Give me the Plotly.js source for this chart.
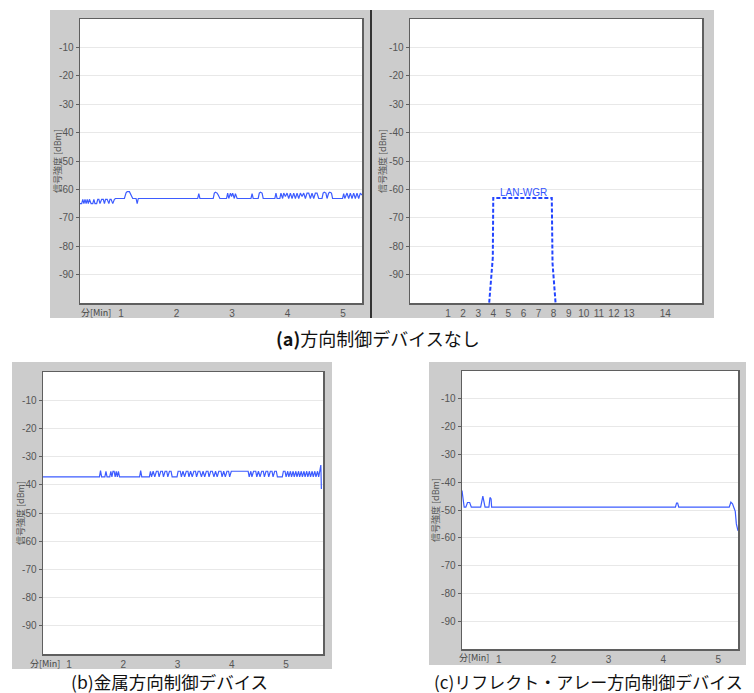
<!DOCTYPE html>
<html>
<head>
<meta charset="utf-8">
<script src="https://cdn.plot.ly/plotly-3.0.1.min.js"></script>
<style>html,body{margin:0;padding:0;background:#fff;}#chart{width:754px;height:693px;}</style>
</head>
<body>
<div id="chart"></div>
<script>
// ---------- DATA ----------
// (a) no direction-control device: time [min] vs signal [dBm]
const aTime = [0.26,0.29,0.31,0.33,0.35,0.37,0.39,0.41,0.43,0.46,0.49,0.51,0.53,0.56,0.58,0.60,0.62,0.65,0.68,0.70,0.72,0.75,0.78,0.80,0.82,0.85,0.88,0.90,0.96,1.06,1.09,1.11,1.15,1.18,1.21,1.27,1.29,1.31,2.38,2.40,2.42,2.66,2.68,2.70,2.73,2.75,2.78,2.90,2.92,2.94,2.97,2.99,3.01,3.04,3.06,3.09,3.34,3.36,3.38,3.47,3.49,3.51,3.54,3.56,3.77,3.79,3.81,3.86,3.88,3.91,3.93,3.96,3.99,4.02,4.05,4.08,4.11,4.14,4.17,4.20,4.23,4.26,4.29,4.32,4.35,4.38,4.41,4.44,4.47,4.50,4.53,4.56,4.62,4.64,4.66,4.69,4.71,4.74,4.76,4.79,4.81,4.99,5.01,5.03,5.07,5.10,5.13,5.16,5.19,5.22,5.25,5.28,5.31,5.34];
const aSignal = [-65,-65,-63.5,-65,-63.5,-65,-63.5,-65,-63.5,-65,-65,-63.5,-65,-65,-63.5,-63.5,-65,-63.5,-63.5,-65,-63.5,-63.5,-65,-63.5,-63.5,-65,-63.5,-63.2,-63.2,-63.2,-61.2,-60.8,-60.8,-61.8,-63.2,-63.2,-65,-63.2,-63.2,-61.5,-63.2,-63.2,-61.3,-61.0,-61.3,-62.0,-63.2,-63.2,-61.3,-63.2,-61.3,-62.5,-61.3,-63.2,-61.5,-63.2,-63.2,-61.5,-63.2,-63.2,-61.3,-61.0,-61.3,-63.2,-63.2,-61.3,-63.2,-63.2,-61.3,-63.2,-61.3,-62.5,-61.3,-63.2,-61.3,-63.2,-61.3,-63.2,-61.3,-63.2,-61.3,-62.5,-61.3,-63.2,-61.3,-61.3,-63.2,-61.3,-63.2,-61.3,-61.3,-63.2,-63.2,-61.3,-61.0,-61.3,-63.2,-61.3,-61.0,-61.3,-63.2,-63.2,-61.5,-63.2,-61.3,-63.2,-61.3,-63.2,-61.3,-63.2,-61.3,-63.2,-61.3,-62.0];

// (a) right: channel spectrum of LAN-WGR
const wgrChannel = [3.70,3.97,4.00,7.88,7.93,8.16];
const wgrSignal  = [-102,-84,-63,-63,-86,-102];
const chTickVals = [1,2,3,4,5,6,7,8,9,10,11,12,13,15.4];
const chTickText = ["1","2","3","4","5","6","7","8","9","10","11","12","13","14"];

// (b) metal direction-control device
const bTime = [0.52,1.56,1.58,1.60,1.66,1.68,1.70,1.75,1.77,1.79,1.81,1.83,1.85,1.87,1.89,1.91,1.93,2.30,2.32,2.34,2.48,2.50,2.52,2.55,2.58,2.61,2.64,2.66,2.69,2.72,2.74,2.77,2.80,2.82,2.85,2.88,2.90,2.99,3.01,3.05,3.07,3.10,3.13,3.16,3.19,3.21,3.24,3.27,3.30,3.33,3.35,3.38,3.41,3.44,3.47,3.50,3.53,3.56,3.58,3.61,3.64,3.67,3.70,3.73,3.76,3.80,3.82,3.85,3.88,3.91,3.94,3.96,3.99,4.30,4.32,4.35,4.37,4.40,4.44,4.46,4.49,4.52,4.55,4.58,4.60,4.63,4.66,4.68,4.71,4.74,4.76,4.79,4.82,4.84,4.93,4.95,4.98,5.00,5.03,5.05,5.08,5.10,5.13,5.15,5.18,5.20,5.23,5.25,5.28,5.30,5.33,5.35,5.38,5.40,5.43,5.45,5.48,5.50,5.53,5.55,5.58,5.60,5.62,5.64,5.645,5.65];
const bSignal = [-37.2,-37.2,-35,-37.2,-37.2,-35.2,-37.2,-37.2,-35.2,-37.2,-35.2,-35.2,-37.2,-35.2,-37.2,-35.2,-37.2,-37.2,-35,-37.2,-37.2,-35.2,-37.2,-35.2,-37.2,-35.2,-35.2,-37.2,-35.2,-35.2,-37.2,-35.2,-35.2,-37.2,-35.2,-35.2,-37.2,-37.2,-35.2,-35.2,-37.2,-35.2,-37.2,-35.2,-35.2,-37.2,-35.2,-37.2,-35.2,-35.2,-37.2,-35.2,-35.2,-37.2,-35.2,-37.2,-35.2,-35.2,-37.2,-35.2,-35.2,-37.2,-35.2,-37.2,-35.2,-35.2,-37.2,-35.2,-37.2,-35.2,-35.2,-37.2,-35.2,-35.2,-37.2,-35.2,-37.2,-35.2,-35.2,-37.2,-35.2,-37.2,-35.2,-35.2,-37.2,-35.2,-35.2,-37.2,-35.2,-35.2,-37.2,-35.2,-35.2,-37.2,-37.2,-35.2,-35.2,-37.2,-35.2,-37.2,-35.2,-37.2,-35.2,-37.2,-35.2,-37.2,-35.2,-37.2,-35.2,-37.2,-35.2,-37.2,-35.2,-37.2,-35.2,-37.2,-35.2,-37.2,-35.2,-37.2,-35.2,-37.2,-35.2,-33.0,-37,-41.5];

// (c) reflect-array direction-control device
const cTime = [0.33,0.35,0.37,0.40,0.43,0.47,0.50,0.67,0.69,0.71,0.73,0.75,0.82,0.84,0.86,0.87,4.22,4.24,4.26,4.28,5.20,5.23,5.26,5.29,5.31,5.33,5.36];
const cSignal = [-43,-46,-49,-49,-47.3,-47.3,-49,-49,-46,-45,-47,-49,-49,-45.5,-46,-49,-49,-47.5,-47.5,-49,-49,-47.2,-47.8,-49.5,-50.5,-55,-57.5];

const minTickVals = [1,2,3,4,5];
const dbTickVals = [-10,-20,-30,-40,-50,-60,-70,-80,-90];
const dbTickText = ["-10","-20","-30","-40","-50","-60","-70","-80","-90"];

const yAxisTitle = "信号強度 [dBm]";
const xAxisLabel = "分[Min]";
const seriesLabel = "LAN-WGR";
const captionA = "<b>(a)</b>方向制御デバイスなし";
const captionB = "(b)金属方向制御デバイス";
const captionC = "(c)リフレクト・アレー方向制御デバイス";

// ---------- LAYOUT HELPERS ----------
const W = 754, H = 693;
const px = x => x / W;
const py = y => 1 - y / H;
const JP = "Noto Sans CJK JP";
const tickFont = {family: "Liberation Sans, Arial, sans-serif", size: 10, color: "#555"};
const lineBlue = "#3d5cff";

function xAx(d0, d1, range, vals, text, anchor) {
  const a = {domain: [px(d0), px(d1)], range: range, anchor: anchor, tickmode: "array", tickvals: vals,
    ticks: "", showgrid: false, zeroline: false, showline: true, mirror: true, linecolor: "#5f5f5f",
    linewidth: 1.5, tickfont: tickFont, fixedrange: true};
  if (text) a.ticktext = text;
  return a;
}
function yAx(t, b, anchor) {
  return {domain: [py(b), py(t)], range: [-100, 0], anchor: anchor, tickmode: "array", tickvals: dbTickVals,
    ticktext: dbTickText, ticks: "outside", ticklen: 3, tickcolor: "#5f5f5f", showgrid: true,
    gridcolor: "#e8e8e8", gridwidth: 1, zeroline: false, showline: true, mirror: true,
    linecolor: "#5f5f5f", linewidth: 1.5, tickfont: tickFont, fixedrange: true};
}

const traces = [
  {x: aTime, y: aSignal, xaxis: "x", yaxis: "y", mode: "lines", line: {color: lineBlue, width: 1.2}, hoverinfo: "skip"},
  {x: wgrChannel, y: wgrSignal, xaxis: "x2", yaxis: "y2", mode: "lines", line: {color: "#2244ff", width: 2, dash: "4px,2px"}, hoverinfo: "skip"},
  {x: bTime, y: bSignal, xaxis: "x3", yaxis: "y3", mode: "lines", line: {color: lineBlue, width: 1.2}, hoverinfo: "skip"},
  {x: cTime, y: cSignal, xaxis: "x4", yaxis: "y4", mode: "lines", line: {color: lineBlue, width: 1.2}, hoverinfo: "skip"}
];

function rect(x0, y0, x1, y1, color) {
  return {type: "rect", xref: "paper", yref: "paper", x0: px(x0), x1: px(x1), y0: py(y1), y1: py(y0),
    fillcolor: color, line: {width: 0}, layer: "below"};
}

const shapes = [
  rect(50, 10, 370, 318, "#cccccc"),
  rect(372, 10, 714, 318, "#cccccc"),
  rect(12, 362, 332, 669, "#cccccc"),
  rect(429, 362, 746, 665, "#cccccc"),
  rect(80, 19, 362, 303, "#ffffff"),
  rect(410, 19, 702, 303, "#ffffff"),
  rect(43, 372, 323, 654, "#ffffff"),
  rect(462, 371, 738, 649, "#ffffff"),
  {type: "line", xref: "paper", yref: "paper", x0: px(371), x1: px(371), y0: py(318), y1: py(10),
   line: {color: "#333333", width: 2}, layer: "below"}
];

function ann(text, x, y, opts) {
  return Object.assign({text: text, xref: "paper", yref: "paper", x: px(x), y: py(y), showarrow: false,
    xanchor: "center", yanchor: "middle"}, opts || {});
}
const vFont = {family: JP, size: 9, color: "#555"};
const annotations = [
  ann(yAxisTitle, 58, 161, {textangle: -90, font: vFont}),
  ann(yAxisTitle, 383, 161, {textangle: -90, font: vFont}),
  ann(yAxisTitle, 20, 513, {textangle: -90, font: vFont}),
  ann(yAxisTitle, 436, 510, {textangle: -90, font: vFont}),
  ann(xAxisLabel, 96, 312, {font: {family: JP, size: 9, color: "#444"}}),
  ann(xAxisLabel, 45, 663, {font: {family: JP, size: 9, color: "#444"}}),
  ann(xAxisLabel, 474, 657, {font: {family: JP, size: 9, color: "#444"}}),
  {text: seriesLabel, xref: "x2", yref: "y2", x: 6, y: -61.2, showarrow: false, xanchor: "center", yanchor: "middle",
   font: {family: "Liberation Sans, Arial, sans-serif", size: 10, color: "#3355ff"}},
  ann(captionA, 378, 338, {font: {family: JP, size: 18, color: "#111"}}),
  ann(captionB, 169, 681.5, {font: {family: JP, size: 17.5, color: "#111"}, borderpad: 0}),
  ann(captionC, 588, 681.5, {font: {family: JP, size: 17, color: "#111"}, borderpad: 0})
];

const layout = {
  width: W, height: H, autosize: false,
  margin: {l: 0, r: 0, t: 0, b: 0, pad: 0},
  paper_bgcolor: "#ffffff", plot_bgcolor: "rgba(0,0,0,0)",
  showlegend: false,
  xaxis: xAx(80, 362, [0.26, 5.34], minTickVals, null, "y"),
  yaxis: yAx(19, 303, "x"),
  xaxis2: xAx(410, 702, [-1.52, 17.84], chTickVals, chTickText, "y2"),
  yaxis2: yAx(19, 303, "x2"),
  xaxis3: xAx(43, 323, [0.52, 5.68], minTickVals, null, "y3"),
  yaxis3: yAx(372, 654, "x3"),
  xaxis4: xAx(462, 738, [0.33, 5.36], minTickVals, null, "y4"),
  yaxis4: yAx(371, 649, "x4"),
  shapes: shapes,
  annotations: annotations
};

Plotly.newPlot("chart", traces, layout, {staticPlot: true, displayModeBar: false});
</script>
</body>
</html>
